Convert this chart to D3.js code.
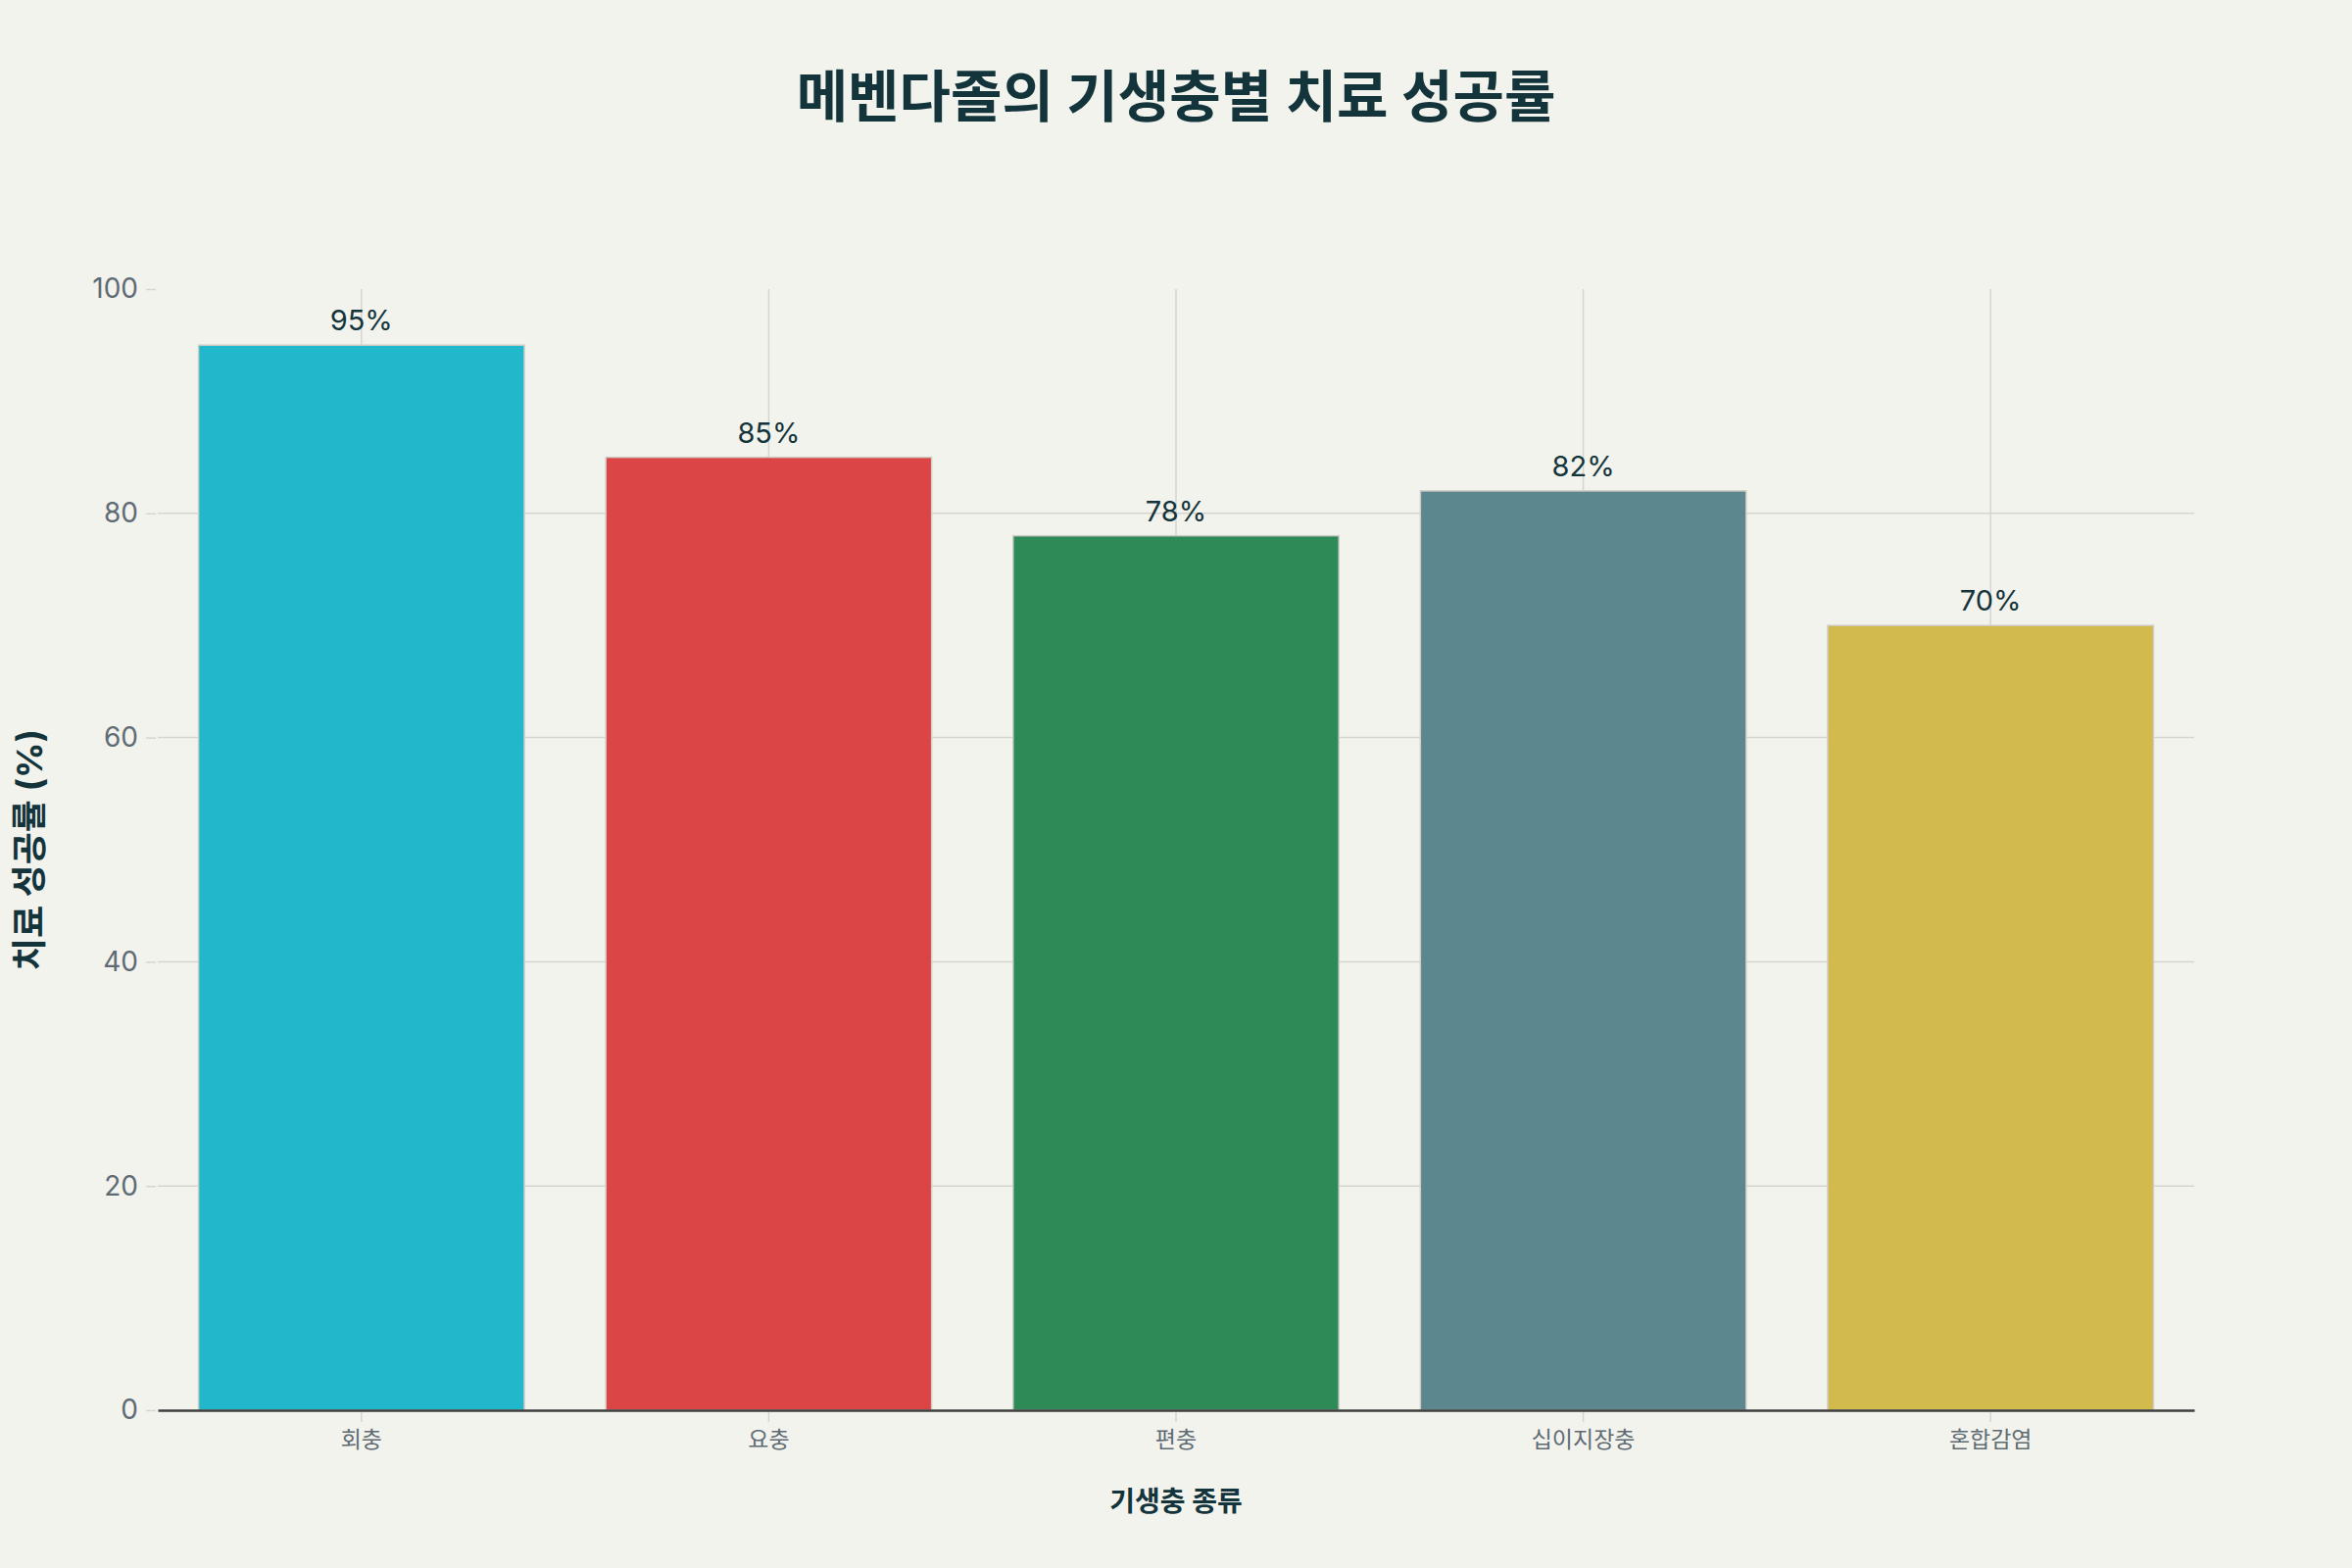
<!DOCTYPE html>
<html>
<head>
<meta charset="utf-8">
<script src="https://cdn.jsdelivr.net/npm/d3@7"></script>
<style>
  body { margin: 0; background: #f3f3ee; }
  text { font-family: Inter, "Noto Sans CJK KR", "Noto Sans", sans-serif; }
</style>
</head>
<body>
<svg></svg>
<script>
// data
let categories = ["회충", "요충", "편충", "십이지장충", "혼합감염"];
let successRate = [95, 85, 78, 82, 70];
let barColors = ["#21b8cc", "#db4545", "#2e8b57", "#5d878f", "#d2ba4c"];
let yTicks = [0, 20, 40, 60, 80, 100];

let svgWidth = 2400;
let svgHeight = 1600;
let margin = { top: 295, right: 161, bottom: 161, left: 161 };
let plotW = svgWidth - margin.left - margin.right;
let plotH = svgHeight - margin.top - margin.bottom;

let svg = d3.select("svg")
  .attr("width", svgWidth)
  .attr("height", svgHeight)
  .style("background", "#f3f3ee");

let xScale = d3.scaleBand()
  .domain(categories)
  .range([0, plotW])
  .paddingInner(0.2)
  .paddingOuter(0.1);

let yScale = d3.scaleLinear()
  .domain([0, 100])
  .range([plotH, 0]);

let g = svg.append("g")
  .attr("transform", "translate(" + margin.left + "," + margin.top + ")");

// grid
g.selectAll(".hgrid")
  .data(yTicks.filter(d => d > 0 && d < 100))
  .enter().append("line")
  .attr("x1", 0).attr("x2", plotW)
  .attr("y1", d => yScale(d)).attr("y2", d => yScale(d))
  .attr("stroke", "#d6d4cf").attr("stroke-width", 1.5);

g.selectAll(".vgrid")
  .data(categories)
  .enter().append("line")
  .attr("x1", d => xScale(d) + xScale.bandwidth() / 2)
  .attr("x2", d => xScale(d) + xScale.bandwidth() / 2)
  .attr("y1", 0).attr("y2", plotH)
  .attr("stroke", "#d6d4cf").attr("stroke-width", 1.5);

// bars
g.selectAll("rect")
  .data(successRate)
  .enter().append("rect")
  .attr("x", (d, i) => xScale(categories[i]))
  .attr("y", d => yScale(d))
  .attr("width", xScale.bandwidth())
  .attr("height", d => plotH - yScale(d))
  .attr("fill", (d, i) => barColors[i])
  .attr("stroke", "#cfcdc8")
  .attr("stroke-width", 1.5);

// value labels
g.selectAll(".val")
  .data(successRate)
  .enter().append("text")
  .attr("x", (d, i) => xScale(categories[i]) + xScale.bandwidth() / 2)
  .attr("y", d => yScale(d) - 15)
  .attr("text-anchor", "middle")
  .attr("font-size", 29)
  .attr("fill", "#13343b")
  .text(d => d + "%");

// y axis
let yAxis = g.append("g")
  .call(d3.axisLeft(yScale).tickValues(yTicks).tickSize(10).tickPadding(10));
yAxis.select(".domain").remove();
yAxis.selectAll("line").attr("stroke", "#d6d4cf").attr("stroke-width", 1.5).attr("transform", "translate(-2,0)");
yAxis.selectAll("text").attr("font-size", 28).attr("fill", "#5f6b73");

// x axis
let xAxis = g.append("g")
  .attr("transform", "translate(0," + plotH + ")")
  .call(d3.axisBottom(xScale).tickSize(10).tickSizeOuter(0).tickPadding(12));
xAxis.select(".domain").attr("stroke", "#3f3f3f").attr("stroke-width", 2.5);
xAxis.selectAll("line").attr("stroke", "#d6d4cf").attr("stroke-width", 1.5).attr("transform", "translate(0,2)");
xAxis.selectAll("text").attr("font-size", 23).attr("fill", "#5f6b73");

// titles
svg.append("text")
  .attr("x", svgWidth / 2)
  .attr("y", 119)
  .attr("text-anchor", "middle")
  .attr("font-size", 57)
  .attr("font-weight", "bold")
  .attr("fill", "#13343b")
  .text("메벤다졸의 기생충별 치료 성공률");

svg.append("text")
  .attr("x", margin.left + plotW / 2)
  .attr("y", 1542)
  .attr("text-anchor", "middle")
  .attr("font-size", 28)
  .attr("font-weight", "bold")
  .attr("fill", "#13343b")
  .text("기생충 종류");

svg.append("text")
  .attr("transform", "translate(43," + (margin.top + plotH / 2) + ") rotate(-90)")
  .attr("text-anchor", "middle")
  .attr("font-size", 36)
  .attr("font-weight", "bold")
  .attr("fill", "#13343b")
  .text("치료 성공률 (%)");
</script>
</body>
</html>
